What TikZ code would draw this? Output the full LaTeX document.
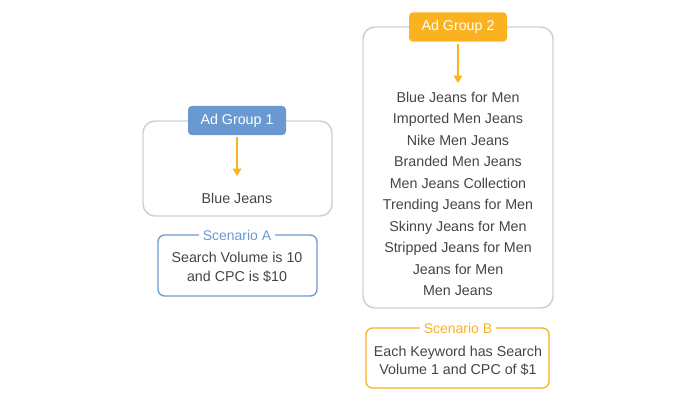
\documentclass[tikz,border=0pt]{standalone}
\usepackage{fontspec}
\setmainfont{Liberation Sans}
\usetikzlibrary{arrows.meta}
\definecolor{grpblue}{HTML}{6A99D1}
\definecolor{grporange}{HTML}{FBB220}
\definecolor{boxgray}{HTML}{CFCFCF}
\definecolor{txtgray}{HTML}{444444}
\begin{document}
\begin{tikzpicture}[x=0.75pt,y=-0.75pt,
  outerbox/.style={draw=boxgray, line width=1.1pt, rounded corners=9pt},
  grouplabel/.style={rounded corners=3pt, text=white, font=\fontsize{10.7}{12}\selectfont, minimum width=73.5pt, minimum height=22pt, inner sep=0pt},
  scenbox/.style={line width=1pt, rounded corners=5pt},
  scentitle/.style={fill=white, inner xsep=3pt, inner ysep=0pt, font=\fontsize{10.5}{12}\selectfont},
  kw/.style={text=txtgray, font=\fontsize{10.7}{12}\selectfont, inner sep=0pt, text height=7.8pt, text depth=2.2pt, yshift=-1.1pt},
  flow/.style={draw=grporange, line width=1pt, -{Triangle[length=5.5pt,width=6.5pt]}}
]
\useasboundingbox (0,0) rectangle (698,400);
% Ad group 1
\draw[outerbox] (143,121) rectangle (332,216);
\node[grouplabel, fill=grpblue] (g1) at (237,120.5) {Ad Group 1};
\node[kw] (k1) at (237,198) {Blue Jeans};
\coordinate (a1) at (237,176);
\draw[flow] (g1.south) ++(0,2) -- (a1);
% Scenario A
\draw[scenbox, draw=grpblue] (158,235) rectangle (317,296);
\node[scentitle, text=grpblue] (sa) at (237,235) {Scenario A};
\node[kw] (sa1) at (237,257) {Search Volume is 10};
\node[kw] (sa2) at (237,276) {and CPC is \$10};
% Ad group 2
\draw[outerbox] (363,27) rectangle (553,308);
\node[grouplabel, fill=grporange] (g2) at (458,27) {Ad Group 2};
\coordinate (a2) at (458,83);
\draw[flow] (g2.south) ++(0,2) -- (a2);
\foreach \t [count=\i] in {Blue Jeans for Men, Imported Men Jeans, Nike Men Jeans, Branded Men Jeans, Men Jeans Collection, Trending Jeans for Men, Skinny Jeans for Men, Stripped Jeans for Men, Jeans for Men, Men Jeans}
  \node[kw] (kw\i) at (458,{97+(\i-1)*21.5}) {\t};
% Scenario B
\draw[scenbox, draw=grporange] (366,328) rectangle (549,388);
\node[scentitle, text=grporange] (sb) at (458,328) {Scenario B};
\node[kw] (sb1) at (458,351) {Each Keyword has Search};
\node[kw] (sb2) at (458,369) {Volume 1 and CPC of \$1};
\end{tikzpicture}
\end{document}
